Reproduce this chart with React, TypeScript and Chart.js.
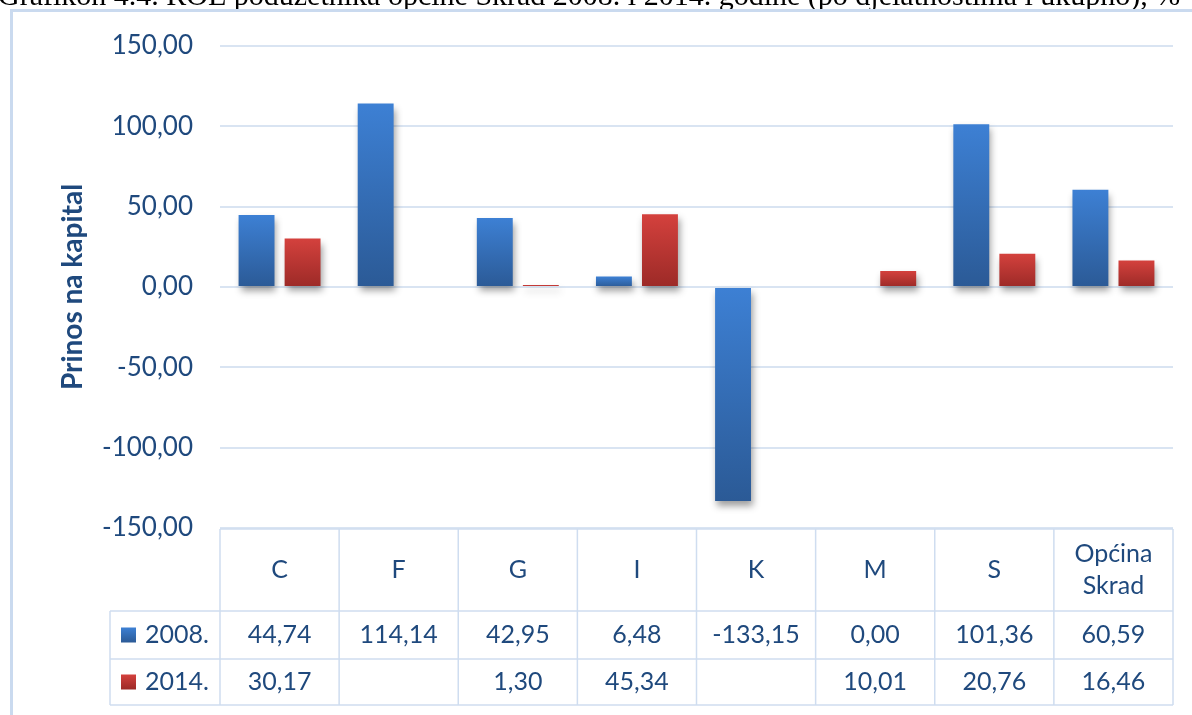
import React, { useEffect, useRef } from 'react';
import { Chart, registerables } from 'chart.js';

Chart.register(...registerables);

const CAPTION = 'Grafikon 4.4. ROE poduzetnika općine Skrad 2008. i 2014. godine (po djelatnostima i ukupno), %';
const categories: string[][] = [['C'], ['F'], ['G'], ['I'], ['K'], ['M'], ['S'], ['Općina', 'Skrad']];
const series2008: (number | null)[] = [44.74, 114.14, 42.95, 6.48, -133.15, 0.0, 101.36, 60.59];
const series2014: (number | null)[] = [30.17, null, 1.3, 45.34, null, 10.01, 20.76, 16.46];
const seriesLabels = ['2008.', '2014.'];
const yMin = -150;
const yMax = 150;
const yStep = 50;
const yTitle = 'Prinos na kapital';

const TEXT = '#1F497D';
const GRID = '#D9E4F2';
const FONT = 'Lato, "Open Sans", sans-serif';
const BLUE = ['#3D80D4', '#2B5A96'];
const RED = ['#D4413D', '#9C2A27'];

const fmt = (v: number) => v.toFixed(2).replace('.', ',');

const gradient = (cols: string[]) => (c: any) => {
  const chart = c.chart;
  const y = chart.scales && chart.scales.y;
  if (!chart.chartArea || !y || c.type !== 'data' || c.raw == null) return cols[0];
  const y0 = y.getPixelForValue(0);
  const y1 = y.getPixelForValue(c.raw);
  const a = Math.min(y0, y1);
  const b = Math.max(y0, y1);
  if (b - a < 1) return cols[1];
  const g = chart.ctx.createLinearGradient(0, a, 0, b);
  g.addColorStop(0, cols[0]);
  g.addColorStop(1, cols[1]);
  return g;
};

const framePlugin = {
  id: 'frame',
  beforeDraw(chart: any) {
    const ctx = chart.ctx;
    ctx.save();
    ctx.fillStyle = '#fff';
    ctx.fillRect(0, 0, chart.width, chart.height);
    ctx.fillStyle = '#000';
    ctx.font = '30px "Liberation Serif", serif';
    ctx.textBaseline = 'alphabetic';
    ctx.textAlign = 'left';
    ctx.fillText(CAPTION, -2, 5);
    ctx.fillStyle = '#fff';
    ctx.fillRect(0, 9, chart.width, 3);
    ctx.strokeStyle = '#CADAEF';
    ctx.lineWidth = 3;
    ctx.strokeRect(11.5, 10.5, chart.width + 20, chart.height + 20);
    ctx.restore();
  },
};

const shadowPlugin = {
  id: 'barShadow',
  beforeDatasetDraw(chart: any) {
    const ctx = chart.ctx;
    ctx.save();
    ctx.shadowColor = 'rgba(0,0,0,0.38)';
    ctx.shadowBlur = 7;
    ctx.shadowOffsetX = 2;
    ctx.shadowOffsetY = 5;
  },
  afterDatasetDraw(chart: any) {
    chart.ctx.restore();
  },
};

const tablePlugin = {
  id: 'dataTable',
  afterDraw(chart: any) {
    const ctx = chart.ctx;
    const xs = chart.scales.x;
    const n = categories.length;
    const L = chart.chartArea.left;
    const R = chart.chartArea.right;
    const colW = (R - L) / n;
    const top = chart.chartArea.bottom + 1;
    const hdrB = top + 82;
    const r1B = hdrB + 48;
    const r2B = r1B + 46;
    const labL = 110;
    ctx.save();
    ctx.strokeStyle = '#CFDDF0';
    ctx.lineWidth = 1.5;
    ctx.beginPath();
    ctx.moveTo(L, top); ctx.lineTo(R, top);
    [hdrB, r1B, r2B].forEach((y) => { ctx.moveTo(labL, y); ctx.lineTo(R, y); });
    ctx.moveTo(labL, hdrB); ctx.lineTo(labL, r2B);
    for (let i = 0; i <= n; i++) {
      const x = L + colW * i;
      ctx.moveTo(x, top); ctx.lineTo(x, r2B);
    }
    ctx.stroke();

    ctx.fillStyle = TEXT;
    ctx.textAlign = 'center';
    ctx.textBaseline = 'middle';
    ctx.font = `25px ${FONT}`;
    const hc = (top + hdrB) / 2;
    categories.forEach((lines, i) => {
      const cx = xs.getPixelForValue(i);
      const lh = 32;
      lines.forEach((t, j) => {
        ctx.fillText(t, cx, hc + (j - (lines.length - 1) / 2) * lh);
      });
    });
    const rows = [series2008, series2014];
    const rowC = [(hdrB + r1B) / 2, (r1B + r2B) / 2];
    const cols = [BLUE, RED];
    rows.forEach((vals, r) => {
      vals.forEach((v, i) => {
        if (v == null) return;
        ctx.fillText(fmt(v), xs.getPixelForValue(i), rowC[r]);
      });
      const sq = 15;
      const g = ctx.createLinearGradient(0, rowC[r] - sq / 2, 0, rowC[r] + sq / 2);
      g.addColorStop(0, cols[r][0]);
      g.addColorStop(1, cols[r][1]);
      ctx.fillStyle = g;
      ctx.fillRect(121, rowC[r] - sq / 2, sq, sq);
      ctx.fillStyle = TEXT;
      ctx.textAlign = 'left';
      ctx.fillText(seriesLabels[r], 145, rowC[r]);
      ctx.textAlign = 'center';
    });
    ctx.restore();
  },
};

export default function App() {
  const ref = useRef<HTMLCanvasElement | null>(null);
  useEffect(() => {
    if (!ref.current) return;
    const chart = new Chart(ref.current, {
      type: 'bar',
      data: {
        labels: categories.map((c) => c.join(' ')),
        datasets: [
          {
            label: seriesLabels[0],
            data: series2008,
            backgroundColor: gradient(BLUE),
            borderWidth: 0,
          },
          {
            label: seriesLabels[1],
            data: series2014,
            backgroundColor: gradient(RED),
            borderWidth: 0,
          },
        ],
      },
      options: {
        responsive: false,
        animation: false,
        devicePixelRatio: 1,
        categoryPercentage: 0.773,
        barPercentage: 0.78,
        layout: { padding: { left: 0, top: 46, right: 19, bottom: 187 } },
        plugins: {
          legend: { display: false },
          tooltip: { enabled: false },
          title: { display: false },
        },
        scales: {
          x: { display: false, offset: true },
          y: {
            min: yMin,
            max: yMax,
            afterFit: (s: any) => { s.width = 220; },
            ticks: {
              stepSize: yStep,
              callback: (v: any) => fmt(Number(v)),
              color: TEXT,
              font: { family: FONT, size: 26 },
              padding: 27,
            },
            grid: { color: GRID, lineWidth: 2, drawTicks: false },
            border: { display: false },
            title: {
              display: true,
              text: yTitle,
              color: TEXT,
              font: { family: FONT, size: 28, weight: 'bold' },
              padding: { top: 56, bottom: 0 },
            },
          },
        },
      },
      plugins: [framePlugin, shadowPlugin, tablePlugin],
    } as any);
    return () => chart.destroy();
  }, []);
  return (
    <div style={{ position: 'fixed', left: 0, top: 0, width: 1192, height: 715, background: '#fff' }}>
      <canvas ref={ref} width={1192} height={715} style={{ display: 'block', width: 1192, height: 715 }} />
    </div>
  );
}
